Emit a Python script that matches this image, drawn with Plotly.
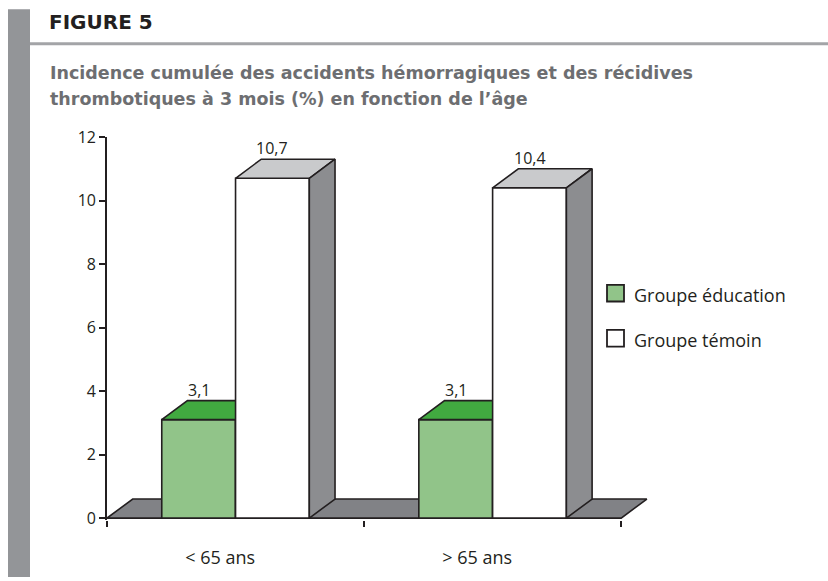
import plotly.graph_objects as go

# ---------------- data ----------------
categories = ["< 65 ans", "> 65 ans"]
series_names = ["Groupe éducation", "Groupe témoin"]
groupe_education = [3.1, 3.1]
groupe_temoin = [10.7, 10.4]
y_ticks = [0, 2, 4, 6, 8, 10, 12]
figure_label = "FIGURE 5"
title_lines = ["Incidence cumulée des accidents hémorragiques et des récidives",
               "thrombotiques à 3 mois (%) en fonction de l’âge"]

# ---------------- style ----------------
W, H = 828, 581
L, R, T, B = 107, 176, 137, 54
EDGE = "#231f20"
GREEN_FRONT = "#91c489"
GREEN_TOP = "#41a940"
WHITE_FRONT = "#ffffff"
WHITE_TOP = "#c9cacc"
SIDE = "#8c8d90"
FLOOR = "#818286"
BW = 0.287          # bar width (category units)
DX, DY = 0.1, 0.6   # 3D depth offset (x in category units, y in value units)
LW = 1.6

fig = go.Figure()


def poly(pts, fill):
    xs = [p[0] for p in pts] + [pts[0][0]]
    ys = [p[1] for p in pts] + [pts[0][1]]
    fig.add_trace(go.Scatter(x=xs, y=ys, mode="lines", fill="toself",
                             fillcolor=fill, line=dict(color=EDGE, width=LW),
                             hoverinfo="skip", showlegend=False))


def bar3d(x0, x1, v, front, top, side):
    poly([(x0, 0), (x1, 0), (x1, v), (x0, v)], front)
    poly([(x0, v), (x1, v), (x1 + DX, v + DY), (x0 + DX, v + DY)], top)
    poly([(x1, 0), (x1 + DX, DY), (x1 + DX, v + DY), (x1, v)], side)


n = len(categories)
# floor
poly([(0, 0), (n, 0), (n + DX, DY), (DX, DY)], FLOOR)

annotations = []
for i in range(n):
    c = i + 0.5
    ve, vt = groupe_education[i], groupe_temoin[i]
    bar3d(c - BW, c, ve, GREEN_FRONT, GREEN_TOP, GREEN_TOP)
    bar3d(c, c + BW, vt, WHITE_FRONT, WHITE_TOP, SIDE)
    for xc, v in ((c - BW / 2, ve), (c + BW / 2, vt)):
        annotations.append(dict(x=xc, y=v + DY, xref="x", yref="y",
                                text=f"{v:.1f}".replace(".", ","),
                                showarrow=False, yanchor="middle", yshift=11,
                                font=dict(family="Open Sans", size=16, color=EDGE)))

PW = W - L - R
PH = H - T - B


def px(x):
    return (x - L) / PW


def py(y):
    return (H - B - y) / PH


shapes = []
# left gray band and header rule
shapes.append(dict(type="rect", xref="paper", yref="paper",
                   x0=px(8), x1=px(30), y0=py(585), y1=py(7),
                   fillcolor="#939598", line=dict(width=0), layer="below"))
shapes.append(dict(type="line", xref="paper", yref="paper",
                   x0=px(30), x1=px(830), y0=py(42), y1=py(42),
                   line=dict(color="#a3a4a7", width=3)))

annotations.append(dict(xref="paper", yref="paper", x=px(47), y=py(20),
                        xanchor="left", yanchor="middle", showarrow=False,
                        text=f"<b>{figure_label}</b>",
                        font=dict(family="DejaVu Sans", size=20, color=EDGE)))
for k, line in enumerate(title_lines):
    annotations.append(dict(xref="paper", yref="paper", x=px(48), y=py(72 + 26 * k),
                            xanchor="left", yanchor="middle", showarrow=False,
                            text=f"<b>{line}</b>",
                            font=dict(family="DejaVu Sans", size=17.5, color="#6d6e71")))

# legend
legend_fills = [GREEN_FRONT, WHITE_FRONT]
for k, (name, fc) in enumerate(zip(series_names, legend_fills)):
    yc = 296 + 46 * k
    shapes.append(dict(type="rect", xref="paper", yref="paper",
                       x0=px(607), x1=px(624), y0=py(yc + 8.5), y1=py(yc - 8.5),
                       fillcolor=fc, line=dict(color=EDGE, width=1.8)))
    annotations.append(dict(xref="paper", yref="paper", x=px(632), y=py(yc + 2),
                            xanchor="left", yanchor="middle", showarrow=False,
                            text=name,
                            font=dict(family="Open Sans", size=18, color=EDGE)))

fig.update_layout(
    width=W, height=H,
    margin=dict(l=L, r=R, t=T, b=B, pad=0),
    paper_bgcolor="white", plot_bgcolor="white",
    showlegend=False,
    shapes=shapes, annotations=annotations,
    xaxis=dict(range=[0, n + 0.12], showgrid=False, zeroline=False, showline=False,
               tickmode="array", tickvals=[i + 0.5 - 0.06 for i in range(n)],
               ticktext=categories, ticks="", ticklabelstandoff=25,
               tickfont=dict(family="Open Sans", size=18, color=EDGE),
               minor=dict(tickmode="array", tickvals=list(range(n + 1)),
                          ticks="outside", ticklen=6, tickwidth=1.5, tickcolor=EDGE),
               fixedrange=True),
    yaxis=dict(range=[-0.06, 12], showgrid=False, zeroline=False,
               showline=True, linecolor=EDGE, linewidth=LW,
               tickmode="array", tickvals=y_ticks,
               ticks="outside", ticklen=6, tickwidth=1.5, tickcolor=EDGE,
               tickfont=dict(family="Open Sans", size=16, color=EDGE),
               fixedrange=True),
)

fig.write_html(
    "out.html", config={"displayModeBar": False},
    post_script=("document.body.style.margin='0';"
                 "document.body.style.padding='0';"))
